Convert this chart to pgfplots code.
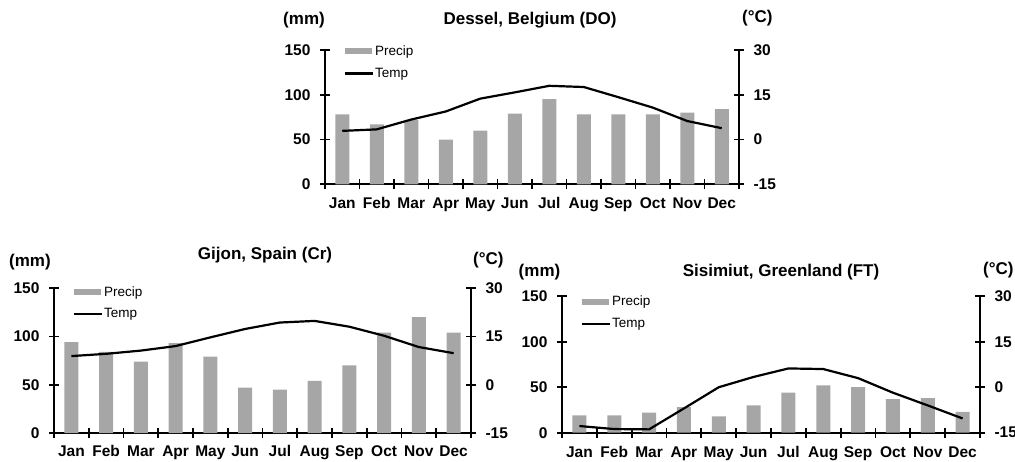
\documentclass[border=0pt]{standalone}
\usepackage{pgfplots}
\pgfplotsset{compat=1.18}
\usepackage{fontspec}
\setmainfont{Liberation Sans}
\definecolor{barcol}{RGB}{166,166,166}

\pgfplotstableread{
m  p   t
0  78  2.9
1  67  3.4
2  72  6.7
3  50  9.4
4  60  13.7
5  79  15.8
6  95  18.0
7  78  17.6
8  78  14.2
9  78  10.7
10 80  6.2
11 84  3.8
}\dessel
\pgfplotstableread{
m  p    t
0  94   8.9
1  84   9.6
2  74   10.6
3  93   12.0
4  79   14.7
5  47   17.3
6  45   19.3
7  54   19.8
8  70   18.0
9  104  15.2
10 120  11.7
11 104  9.8
}\gijon
\pgfplotstableread{
m  p   t
0  19  -12.8
1  19  -13.8
2  22  -13.9
3  28  -7.0
4  18  0.0
5  30  3.4
6  44  6.2
7  52  6.0
8  50  3.0
9  37  -1.8
10 38  -6.0
11 23  -10.3
}\sisimiut

\pgfplotsset{
  common/.style={
    scale only axis,
    xmin=-0.5, xmax=11.5,
    axis line style={-, line width=2.3pt, black},
    tick align=center,
    major tick length=10pt,
    minor tick length=10pt,
    tick style={line width=1.8pt, black},
    tick label style={font=\fontsize{15.5}{18}\selectfont\bfseries},
    /pgf/number format/assume math mode=true,
    clip=false,
  },
  leftax/.style={
    common,
    axis y line*=left, axis x line*=bottom,
    ymin=0, ymax=150, ytick={0,50,100,150},
    xtick={0,...,11},
    xticklabels={Jan,Feb,Mar,Apr,May,Jun,Jul,Aug,Sep,Oct,Nov,Dec},
    major x tick style={draw=none},
    minor xtick={-0.5,0.5,...,11.5},
    minor x tick style={line width=1.8pt, black},
    xticklabel style={anchor=north, text height=11.5pt, text depth=3.5pt, yshift=-4.3pt},
    yticklabel style={xshift=-6pt},
    legend cell align=left,
    legend style={draw=none, fill=none, font=\fontsize{13.5}{16}\selectfont,
      anchor=north west, row sep=9pt, inner sep=0pt,
      nodes={inner sep=1pt}},
  },
  rightax/.style={
    common,
    axis y line*=right, axis x line=none,
    ymin=-15, ymax=30, ytick={-15,0,15,30},
    yticklabel style={xshift=6pt},
  },
  barplot/.style={ybar, bar width=14pt, fill=barcol, draw=none,
    legend image code/.code={\fill[barcol] (0pt,-3pt) rectangle (27pt,3pt);}},
  lineimg/.style={legend image code/.code={\draw[line width=2.2pt, black] (0pt,0pt) -- (28pt,0pt);}},
  tline/.style={line width=2.2pt, black, mark=none},
}

\begin{document}
\begin{tikzpicture}
\useasboundingbox (0pt,0pt) rectangle (1015pt,461pt);
\tikzset{tt/.style={font=\fontsize{17}{20}\selectfont\bfseries, inner sep=0pt}}

% Dessel
\begin{axis}[leftax, at={(325pt,276.7pt)}, anchor=south west, width=414pt, height=134.3pt,
  legend style={at={(axis description cs:0.045,1.04)}}]
\addplot[barplot] table[x=m, y=p] {\dessel};
\addlegendentry{Precip}
\addlegendimage{lineimg}
\addlegendentry{Temp}
\end{axis}
\begin{axis}[rightax, at={(325pt,276.7pt)}, anchor=south west, width=414pt, height=134.3pt]
\addplot[tline] table[x=m, y=t] {\dessel};
\end{axis}
\node[tt] at (530pt,441pt) {Dessel, Belgium (DO)};
\node[tt, anchor=east] at (325pt,441pt) {(mm)};
\node[tt, anchor=west] at (742pt,443pt) {(°C)};

% Gijon
\begin{axis}[leftax, at={(54pt,27.8pt)}, anchor=south west, width=417pt, height=145.2pt,
  xticklabel style={yshift=0.9pt},
  legend style={at={(axis description cs:0.045,1.02)}}]
\addplot[barplot] table[x=m, y=p] {\gijon};
\addlegendentry{Precip}
\addlegendimage{lineimg}
\addlegendentry{Temp}
\end{axis}
\begin{axis}[rightax, at={(54pt,27.8pt)}, anchor=south west, width=417pt, height=145.2pt]
\addplot[tline] table[x=m, y=t] {\gijon};
\end{axis}
\node[tt] at (265pt,206pt) {Gijon, Spain (Cr)};
\node[tt] at (30pt,199pt) {(mm)};
\node[tt, anchor=west] at (473pt,201pt) {(°C)};

% Sisimiut
\begin{axis}[leftax, at={(562pt,28.3pt)}, anchor=south west, width=418pt, height=136.4pt,
  legend style={at={(axis description cs:0.045,1.01)}}]
\addplot[barplot] table[x=m, y=p] {\sisimiut};
\addlegendentry{Precip}
\addlegendimage{lineimg}
\addlegendentry{Temp}
\end{axis}
\begin{axis}[rightax, at={(562pt,28.3pt)}, anchor=south west, width=418pt, height=136.4pt]
\addplot[tline] table[x=m, y=t] {\sisimiut};
\end{axis}
\node[tt] at (781pt,189pt) {Sisimiut, Greenland (FT)};
\node[tt] at (539.5pt,189pt) {(mm)};
\node[tt, anchor=west] at (983pt,191pt) {(°C)};
\end{tikzpicture}
\end{document}
